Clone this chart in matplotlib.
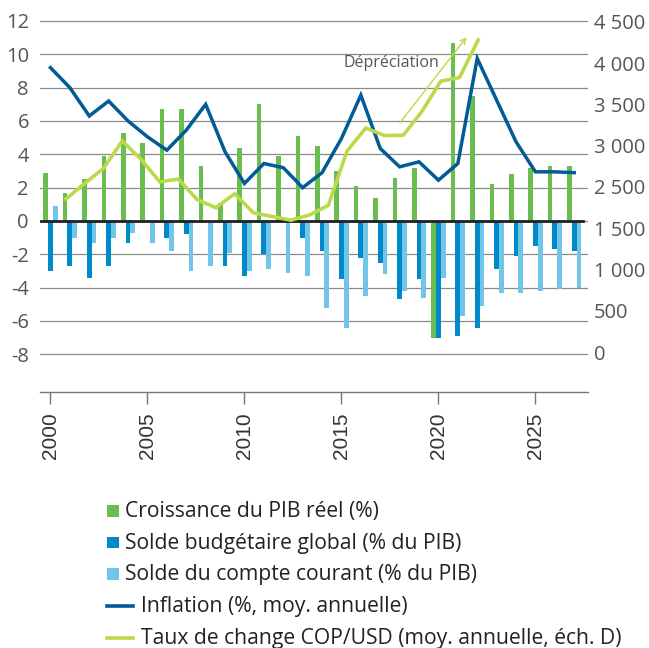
import matplotlib
matplotlib.use("Agg")
import matplotlib.pyplot as plt
import matplotlib.patches as mpatches
from matplotlib.lines import Line2D
import numpy as np

plt.rcParams['font.family'] = ['Open Sans', 'DejaVu Sans']
plt.rcParams['axes.unicode_minus'] = False

years = list(range(2000, 2028))
gdp = [2.9, 1.7, 2.5, 3.9, 5.3, 4.7, 6.7, 6.7, 3.3, 1.1, 4.4, 7.0, 3.9, 5.1,
       4.5, 3.0, 2.1, 1.4, 2.6, 3.2, -7.0, 10.7, 7.5, 2.2, 2.8, 3.2, 3.3, 3.3]
budget = [-3.0, -2.7, -3.4, -2.7, -1.3, 0.0, -1.0, -0.8, 0.0, -2.7, -3.3, -2.0, 0.0, -1.0,
          -1.8, -3.5, -2.2, -2.5, -4.7, -3.5, -7.0, -6.9, -6.4, -2.9, -2.1, -1.5, -1.7, -1.8]
current = [0.9, -1.0, -1.3, -1.0, -0.7, -1.3, -1.8, -3.0, -2.7, -1.9, -3.0, -2.9, -3.1, -3.3,
           -5.2, -6.4, -4.5, -3.2, -4.2, -4.6, -3.4, -5.7, -5.1, -4.3, -4.3, -4.2, -4.1, -4.0]
inflation = [9.2, 8.0, 6.3, 7.2, 6.0, 5.05, 4.25, 5.45, 7.0, 4.15, 2.25, 3.45, 3.2, 2.0,
             2.9, 4.95, 7.55, 4.35, 3.25, 3.55, 2.45, 3.45, 9.75, 7.25, 4.75, 2.95, 2.95, 2.9]

fx_years = list(range(2000, 2023))
fx = [2088, 2300, 2505, 2878, 2628, 2321, 2358, 2078, 1967, 2158, 1898, 1848, 1797, 1869,
      2001, 2742, 3054, 2951, 2956, 3281, 3693, 3743, 4255]

left_ticks = list(range(-8, 13, 2))
right_ticks = np.linspace(0, 4500, 9)
right_labels = ['0', '500', '1000', '1500', '2500', '3000', '3500', '4000', '4500']
right_labels = [l if len(l) < 4 else l[0] + ' ' + l[1:] for l in right_labels]
x_ticks = [2000, 2005, 2010, 2015, 2020, 2025]

labels = ['Croissance du PIB réel (%)',
          'Solde budgétaire global (% du PIB)',
          'Solde du compte courant (% du PIB)',
          'Inflation (%, moy. annuelle)',
          'Taux de change COP/USD (moy. annuelle, éch. D)']

c_gdp = '#6abd4f'
c_budget = '#0089c9'
c_current = '#6fc6e8'
c_infl = '#005b96'
c_fx = '#bed84b'
c_text = '#555555'

W, H = 649, 648
fig = plt.figure(figsize=(W / 100, H / 100), dpi=100)
rect = [40 / W, (H - 392) / H, 548 / W, 377 / H]
ax = fig.add_axes(rect)
ax2 = fig.add_axes(rect, frameon=False)
ax2.patch.set_visible(False)

x = np.array(years)
bw = 0.245
ax.bar(x - bw, gdp, bw, color=c_gdp, zorder=2)
ax.bar(x, budget, bw, color=c_budget, zorder=2)
ax.bar(x + bw, current, bw, color=c_current, zorder=2)
ax.plot(x, inflation, color=c_infl, lw=2.5, zorder=4, solid_joinstyle='miter')
ax.axhline(0, xmin=0.002, xmax=0.991, color='#231f20', lw=2.0, zorder=3)

ax.set_xlim(1999.46, 2027.71)
ax.set_ylim(-10.26, 12.36)
ax.set_yticks(left_ticks)
ax.yaxis.grid(True, color='#8a8a8a', lw=0.9, zorder=0)
ax.set_axisbelow(True)
for s in ['top', 'left', 'right']:
    ax.spines[s].set_visible(False)
ax.spines['bottom'].set_color('#777777')
ax.spines['bottom'].set_linewidth(1.0)
ax.tick_params(axis='y', length=0, pad=8, labelsize=14.5, labelcolor=c_text)
ax.set_xticks(x_ticks)
ax.set_xticklabels([str(t) for t in x_ticks], rotation=90, family='Liberation Sans',
                   fontsize=15, color='#333333')
ax.tick_params(axis='x', direction='out', length=8.6, width=1, color='#777777', pad=6)

ax2.plot(fx_years, fx, color=c_fx, lw=2.6, zorder=5, solid_joinstyle='miter')
ax2.set_xlim(1998.61, 2027.86)
ax2.set_ylim(-545, 4595)
ax2.xaxis.set_visible(False)
ax2.yaxis.tick_right()
ax2.set_yticks(right_ticks)
ax2.set_yticklabels(right_labels)
ax2.tick_params(axis='y', length=0, pad=4, labelsize=14.5, labelcolor=c_text)

ax2.annotate('', xy=(2021.47, 4323), xytext=(2017.73, 3095),
             arrowprops=dict(arrowstyle='->', color=c_fx, lw=1.0, mutation_scale=10))
ax2.text(2017.38, 3934, 'Dépréciation', ha='center', va='center', fontsize=11.5, color=c_text)

# legend drawn by hand below the plot
row_y = [510.8, 542.5, 574.2, 605.9, 637.6]
for i, lab in enumerate(labels):
    yc = row_y[i]
    if i < 3:
        col = [c_gdp, c_budget, c_current][i]
        fig.add_artist(mpatches.Rectangle((107.3 / W, (H - yc - 5.8) / H), 11.7 / W, 11.7 / H,
                                          transform=fig.transFigure, color=col, lw=0))
        tx = 125
    else:
        col = [c_infl, c_fx][i - 3]
        fig.add_artist(Line2D([107.3 / W, 133.4 / W], [(H - yc) / H] * 2,
                              transform=fig.transFigure, color=col, lw=2.6))
        tx = 140.6
    fig.text(tx / W, (H - yc - 6) / H, lab, ha='left', va='baseline', fontsize=15.2, color='#222222')

fig.savefig('out.png', dpi=100)
